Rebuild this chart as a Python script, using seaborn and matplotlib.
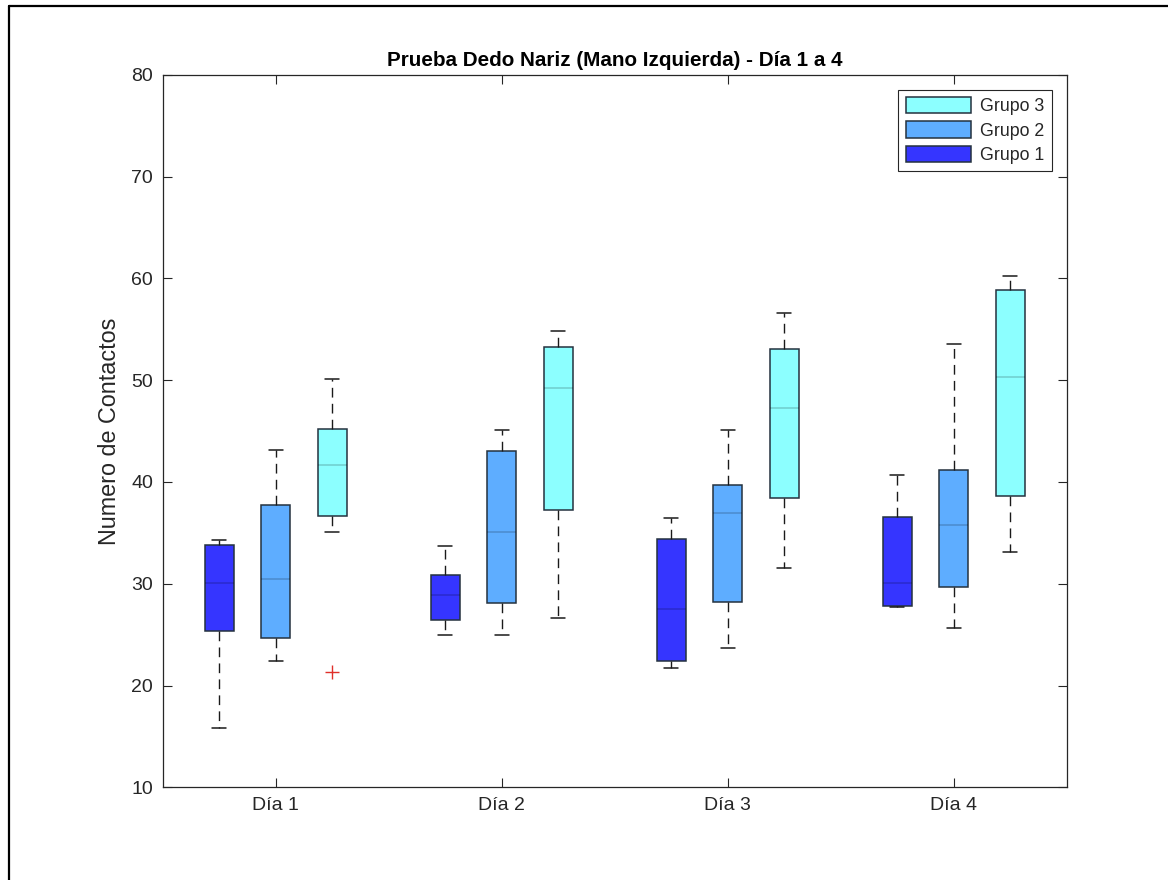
import numpy as np
import pandas as pd
import matplotlib
matplotlib.use("Agg")
import matplotlib.pyplot as plt
import seaborn as sns
from matplotlib.lines import Line2D

# ---------------- data ----------------
dias = ["Día 1", "Día 2", "Día 3", "Día 4"]
grupos = ["Grupo 1", "Grupo 2", "Grupo 3"]

g1_whislo = [15.8, 25.0, 21.7, 27.7]
g1_q1 = [25.4, 26.4, 22.4, 27.85]
g1_med = [30.1, 28.9, 27.5, 30.1]
g1_q3 = [33.8, 30.9, 34.4, 36.6]
g1_whishi = [34.3, 33.7, 36.5, 40.7]

g2_whislo = [22.45, 25.0, 23.7, 25.7]
g2_q1 = [24.7, 28.1, 28.2, 29.7]
g2_med = [30.5, 35.1, 36.9, 35.8]
g2_q3 = [37.7, 43.0, 39.7, 41.2]
g2_whishi = [43.1, 45.1, 45.1, 53.5]

g3_whislo = [35.1, 26.6, 31.5, 33.1]
g3_q1 = [36.7, 37.2, 38.4, 38.6]
g3_med = [41.7, 49.2, 47.3, 50.35]
g3_q3 = [45.2, 53.3, 53.1, 58.9]
g3_whishi = [50.1, 54.8, 56.6, 60.2]

outlier_dia = "Día 1"
outlier_grupo = "Grupo 3"
outlier_vals = [21.3]

colores = ["#3535FF", "#5EADFF", "#8CFFFF"]

# --------- build a long table whose box statistics equal the read values ---------
stats = {
    "Grupo 1": (g1_whislo, g1_q1, g1_med, g1_q3, g1_whishi),
    "Grupo 2": (g2_whislo, g2_q1, g2_med, g2_q3, g2_whishi),
    "Grupo 3": (g3_whislo, g3_q1, g3_med, g3_q3, g3_whishi),
}
rows = []
for g in grupos:
    lo, q1, med, q3, hi = stats[g]
    for i, d in enumerate(dias):
        if d == outlier_dia and g == outlier_grupo:
            pts = outlier_vals + [lo[i], q1[i], q1[i], med[i], med[i], q3[i], q3[i], hi[i]]
        else:
            pts = [lo[i], q1[i], med[i], q3[i], hi[i]]
        for v in pts:
            rows.append({"Día": d, "Grupo": g, "Contactos": v})
df = pd.DataFrame(rows)

# ---------------- styling ----------------
sns.set_style("ticks")
plt.rcParams["font.family"] = ["Liberation Sans", "DejaVu Sans"]
plt.rcParams["axes.edgecolor"] = "#262626"
plt.rcParams["axes.linewidth"] = 0.9

fig = plt.figure(figsize=(11.68, 8.8), dpi=100)
ax = fig.add_axes([0.1393, 0.1053, 0.9133 - 0.1393, 0.9151 - 0.1053])

edge = "#24323f"
sns.boxplot(
    data=df, x="Día", y="Contactos", hue="Grupo",
    order=dias, hue_order=grupos,
    palette=dict(zip(grupos, colores)), saturation=1,
    width=0.75, gap=0.49, whis=1.5,
    linecolor=edge, linewidth=1.1, ax=ax,
    whiskerprops=dict(color="#1a1a1a", linestyle=(0, (7, 4.5)), linewidth=1.0),
    capprops=dict(color="#1a1a1a", linewidth=1.1),
    medianprops=dict(color="black", alpha=0.2, linewidth=1.1),
    flierprops=dict(marker="+", markeredgecolor="#e0302a", markersize=10,
                    markeredgewidth=1.0),
)

ax.set_xlim(-0.5, 3.5)
ax.set_ylim(10, 80)
ax.set_yticks(range(10, 81, 10))
ax.set_xlabel("")
ax.set_ylabel("Numero de Contactos", fontsize=16.8, color="#262626", labelpad=7)
ax.set_title("Prueba Dedo Nariz (Mano Izquierda) - Día 1 a 4",
             fontsize=14.9, fontweight="bold", color="black", pad=6)
ax.tick_params(direction="in", top=True, right=True, length=6.5, width=0.8,
               colors="#262626", labelsize=14, pad=7)
for s in ax.spines.values():
    s.set_visible(True)
    s.set_color("#262626")

old = ax.get_legend()
handles = list(old.legend_handles)
labels = [t.get_text() for t in old.get_texts()]
old.remove()
leg = ax.legend(handles[::-1], labels[::-1], loc="upper right", frameon=True,
                fancybox=False, framealpha=1, edgecolor="#262626",
                fontsize=12.8, handlelength=3.7, handleheight=1.05,
                labelspacing=0.35, borderaxespad=0.85, handletextpad=0.5,
                borderpad=0.4, title=None)
leg.get_frame().set_linewidth(0.8)

# screenshot frame lines (top and left)
fig.add_artist(Line2D([0.0077, 1.0], [0.9937, 0.9937], transform=fig.transFigure,
                      color="black", lw=1.6))
fig.add_artist(Line2D([0.0077, 0.0077], [0.0, 0.9937], transform=fig.transFigure,
                      color="black", lw=1.6))

fig.savefig("out.png", dpi=100, facecolor="white")
